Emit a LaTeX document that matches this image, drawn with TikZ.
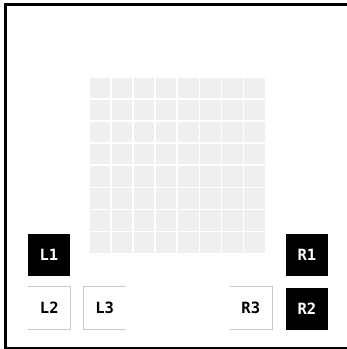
\documentclass[tikz,border=0pt]{standalone}
\usepackage{fontspec}
\newfontfamily\labfont{DejaVu Sans Mono}
\definecolor{cellgray}{HTML}{EFEFEF}
\definecolor{edgegray}{HTML}{C8C8C8}
\begin{document}
\begin{tikzpicture}[x=1pt,y=-1pt,
  cell/.style={fill=cellgray,draw=none},
  darkbox/.style={fill=black,draw=none,minimum size=42pt,inner sep=0pt,text=white,font=\labfont\bfseries\fontsize{15.5}{15.5}\selectfont},
  lightbox/.style={fill=white,draw=none,minimum size=42pt,inner sep=0pt,text=black,font=\labfont\bfseries\fontsize{15.5}{15.5}\selectfont},
  edge/.style={draw=edgegray,line width=1pt}]
\useasboundingbox (0,0) rectangle (347,349);
\fill[white] (0,0) rectangle (347,349);
\begin{scope}
\clip (0,0) rectangle (347,349);
\draw[line width=3pt] (5.5,4.8) rectangle (353,348.6);
\end{scope}
\foreach \i in {0,...,7}{
  \foreach \j in {0,...,7}{
    \fill[cell] ({90+22.05*\i},{78+22.05*\j}) rectangle +(20.3,20.3);
  }
}
\node[darkbox] (L1) at (49,255) {L1};
\node[darkbox] (R1) at (307,255) {R1};
\node[darkbox] (R2) at (307,308.5) {R2};
\node[lightbox] (L2) at (49.3,308) {L2};
\node[lightbox] (L3) at (104.7,308) {L3};
\node[lightbox] (R3) at (250.8,308) {R3};
\draw[edge] (L2.north west) -- (L2.north east) -- (L2.south east) -- (L2.south west);
\draw[edge] (L3.north east) -- (L3.north west) -- (L3.south west) -- (L3.south east);
\draw[edge] (R3.north west) -- (R3.north east) -- (R3.south east) -- (R3.south west);
\end{tikzpicture}
\end{document}
